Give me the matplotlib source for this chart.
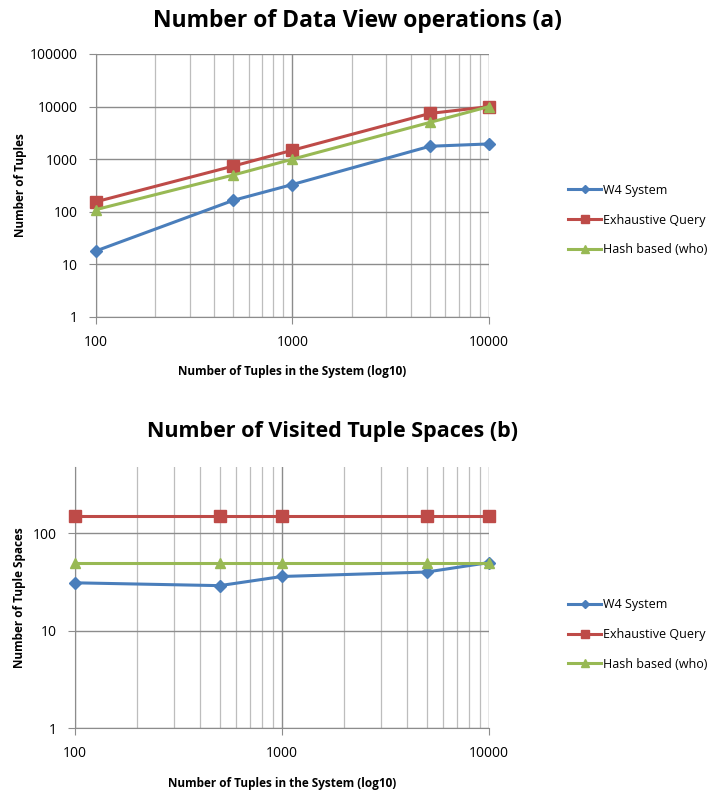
import matplotlib
matplotlib.use("Agg")
import matplotlib.pyplot as plt
from matplotlib.ticker import FixedLocator, NullFormatter, LogLocator

x_tuples = [100, 500, 1000, 5000, 10000]

# Chart (a): Number of Data View operations
a_w4 = [18, 165, 330, 1760, 1950]
a_exhaustive = [155, 740, 1480, 7400, 10000]
a_hash = [110, 500, 1000, 5000, 10000]

# Chart (b): Number of Visited Tuple Spaces
b_w4 = [31, 29, 36, 40, 50]
b_exhaustive = [150, 150, 150, 150, 150]
b_hash = [50, 50, 50, 50, 50]

series_names = ["W4 System", "Exhaustive Query", "Hash based (who)"]
colors = ["#4A7EBB", "#BE4B48", "#98B954"]
markers = ["D", "s", "^"]
msizes = [6, 8, 7]

x_ticks = [100, 1000, 10000]
a_yticks = [1, 10, 100, 1000, 10000, 100000]
b_yticks = [1, 10, 100]

plt.rcParams['font.family'] = ['Open Sans', 'DejaVu Sans']

fig = plt.figure(figsize=(7.16, 7.94), dpi=100)
ax1 = fig.add_axes([0.134, 0.6008, 0.549, 0.3312])
ax2 = fig.add_axes([0.1047, 0.0827, 0.5783, 0.3295])


def style(ax, yticks, ylim, ylabel, ylab_x, title, title_xy, title_fs, leg_y):
    ax.set_xscale('log')
    ax.set_yscale('log')
    ax.set_xlim(100, 10000)
    ax.set_ylim(*ylim)
    ax.xaxis.set_major_locator(FixedLocator(x_ticks))
    ax.xaxis.set_minor_locator(LogLocator(base=10, subs=range(2, 10)))
    ax.xaxis.set_minor_formatter(NullFormatter())
    ax.yaxis.set_major_locator(FixedLocator(yticks))
    ax.yaxis.set_minor_locator(FixedLocator([]))
    ax.set_xticklabels([str(v) for v in x_ticks])
    ax.set_yticklabels([str(v) for v in yticks])
    ax.grid(which='major', color='#8c8c8c', linewidth=1.0)
    ax.grid(which='minor', axis='x', color='#bdbdbd', linewidth=0.9)
    ax.set_axisbelow(True)
    for s in ['top', 'right']:
        ax.spines[s].set_visible(False)
    ax.spines['left'].set_color('#8c8c8c')
    ax.spines['bottom'].set_color('#8c8c8c')
    ax.tick_params(axis='both', which='major', labelsize=10, length=5, color='#8c8c8c', pad=8)
    ax.tick_params(axis='x', which='minor', length=0)
    ax.set_xlabel("Number of Tuples in the System (log10)", fontsize=8.5, fontweight='bold', labelpad=11)
    ax.set_ylabel(ylabel, fontsize=8.5, fontweight='bold')
    ax.yaxis.set_label_coords(ylab_x, 0.5)
    fig.text(title_xy[0], title_xy[1], title, fontsize=title_fs, fontweight='bold', ha='center', va='center')
    ax.legend(loc='upper left', bbox_to_anchor=(0.787, leg_y), bbox_transform=fig.transFigure,
              frameon=False, fontsize=9, handlelength=2.6, handletextpad=0.15, labelspacing=1.35,
              borderaxespad=0, markerscale=0.75)


for vals, name, c, m, ms in zip([a_w4, a_exhaustive, a_hash], series_names, colors, markers, msizes):
    ax1.plot(x_tuples, vals, color=c, marker=m, markersize=ms, linewidth=2.2, label=name, clip_on=False, zorder=3)
for vals, name, c, m, ms in zip([b_w4, b_exhaustive, b_hash], series_names, colors, markers, msizes):
    ax2.plot(x_tuples, vals, color=c, marker=m, markersize=ms, linewidth=2.2, label=name, clip_on=False, zorder=3)

style(ax1, a_yticks, (1, 100000), "Number of Tuples", -0.175,
      "Number of Data View operations (a)", (0.4986, 0.974), 16.5, 0.775)
style(ax2, b_yticks, (1, 480), "Number of Tuple Spaces", -0.118,
      "Number of Visited Tuple Spaces (b)", (0.465, 0.456), 15.5, 0.253)

fig.savefig("out.png", dpi=100, facecolor='white')
